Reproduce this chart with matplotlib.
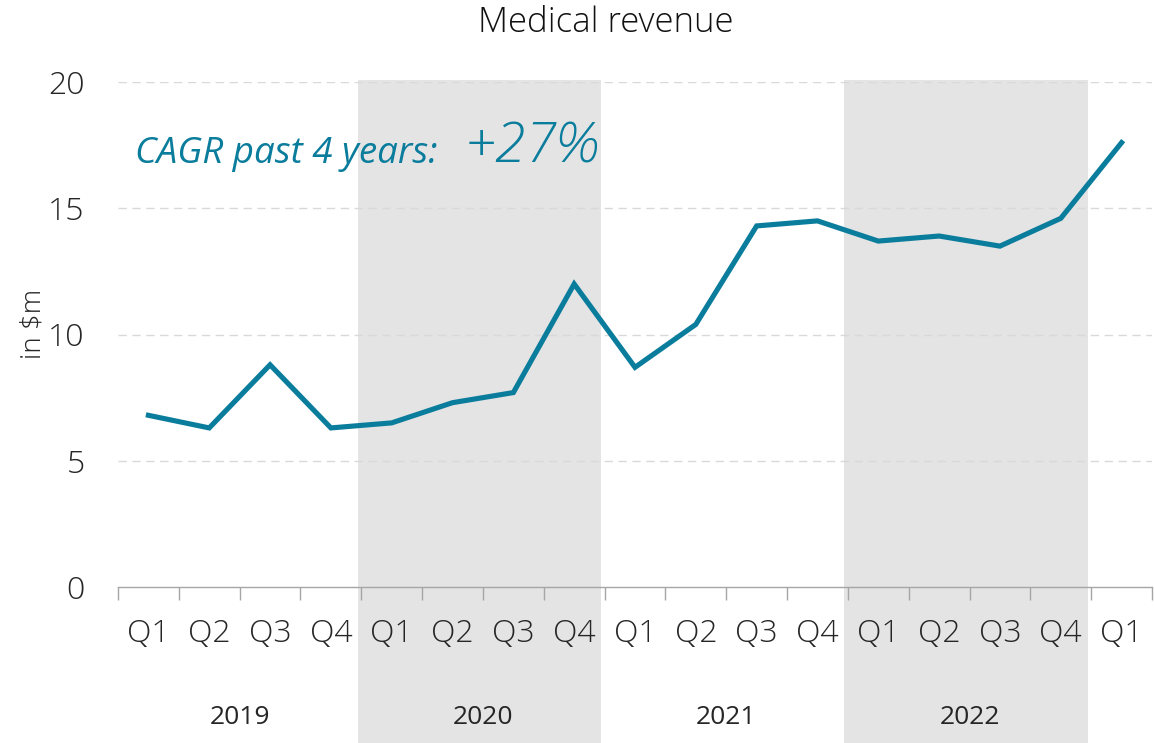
import matplotlib
matplotlib.use("Agg")
import matplotlib.pyplot as plt
from matplotlib.patches import Rectangle
from matplotlib.transforms import blended_transform_factory

quarters = ["Q1", "Q2", "Q3", "Q4"] * 4 + ["Q1"]
years = ["2019", "2020", "2021", "2022"]
revenue = [6.8, 6.3, 8.8, 6.3, 6.5, 7.3, 7.7, 12.0, 8.7, 10.4, 14.3, 14.5,
           13.7, 13.9, 13.5, 14.6, 17.6]
shaded_years = ["2020", "2022"]
yticks = [0, 5, 10, 15, 20]

plt.rcParams['font.family'] = ['Open Sans', 'DejaVu Sans']
LINE = '#0A7C9C'
TXT = '#262626'

W, H = 1154, 743
fig = plt.figure(figsize=(W / 100, H / 100), dpi=100)
ax = fig.add_axes([118 / W, 1 - 587 / H, (1152 - 118) / W, (587 - 82) / H])

n = len(revenue)
x = list(range(n))

# shaded year bands extending down through labels
trans = blended_transform_factory(ax.transData, fig.transFigure)
for i, yr in enumerate(years):
    if yr in shaded_years:
        x0 = i * 4 - 0.56
        ax.add_patch(Rectangle((x0, 0), 4, 1 - 80 / H, transform=trans,
                               facecolor='#e4e4e4', edgecolor='none',
                               clip_on=False, zorder=0))
    ax.text(i * 4 + 1.5, 1 - 718 / H, yr, transform=trans, ha='center',
            va='center', fontsize=19, color=TXT)

ax.plot(x, revenue, color=LINE, lw=3.7, solid_joinstyle='miter', zorder=3)

ax.set_xlim(-0.5, n - 0.5)
ax.set_ylim(0, 20)
ax.set_yticks(yticks)
ax.set_yticklabels([str(v) for v in yticks], fontsize=23, color=TXT,
                   fontweight='light')
for v in yticks[1:]:
    ax.axhline(v, color='#d9d9d9', lw=1, ls=(0, (6, 4)), zorder=1)

ax.set_xticks(x)
ax.set_xticklabels(quarters, fontsize=23, color=TXT, fontweight='light')
ax.set_xticks([i - 0.5 for i in range(n + 1)], minor=True)
ax.tick_params(axis='x', which='major', length=0, pad=22)
ax.tick_params(axis='x', which='minor', length=9, width=1, color='#a6a6a6')
ax.tick_params(axis='y', length=0, pad=24)

for s in ['top', 'right', 'left']:
    ax.spines[s].set_visible(False)
ax.spines['bottom'].set_color('#a6a6a6')
ax.spines['bottom'].set_linewidth(1)
ax.patch.set_alpha(0)

ax.set_ylabel('in $m', fontsize=20, color=TXT, fontweight='light')
ax.yaxis.set_label_coords(-0.068, 0.52)

fig.text(606 / W, 1 - 23 / H, 'Medical revenue', ha='center', va='center',
         fontsize=25, color='#111111', fontweight='light')

ax.text(-0.22, 16.8, 'CAGR past 4 years:', fontsize=26.5, style='italic',
        color=LINE, va='baseline', ha='left')
ax.text(5.2, 16.8, '+27%', fontsize=40, style='italic', color=LINE,
        va='baseline', ha='left', fontweight='light')

fig.savefig('out.png', dpi=100)
